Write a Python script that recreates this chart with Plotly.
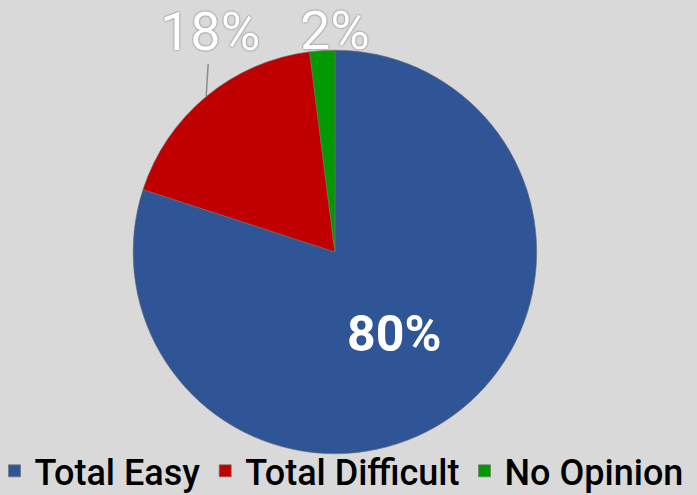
import math
import plotly.graph_objects as go

labels = ["Total Easy", "Total Difficult", "No Opinion"]
values = [80, 18, 2]
colors = ["#2F5597", "#C00000", "#009A00"]
positions = ["inside", "none", "none"]   # small slices get labels above the pie

W, H = 697, 495
dom_x = [0.191, 0.770]
dom_y = [0.083, 0.899]

# pie geometry in pixels (used to hang the outside labels on their slices)
cx = (dom_x[0] + dom_x[1]) / 2 * W
cy = (1 - (dom_y[0] + dom_y[1]) / 2) * H
R = (dom_y[1] - dom_y[0]) * H / 2
label_row = 31   # px from top

annotations = []
total = sum(values)
start = 0
for lab, v, pos in zip(labels, values, positions):
  mid = (start + v / 2) / total * 2 * math.pi
  start += v
  if pos != "none":
    continue
  ex = cx + R * math.sin(mid)
  ey = cy - R * math.cos(mid)
  long_leader = (ey - label_row) > 45
  annotations.append(dict(
    x=ex / W, y=1 - (ey if long_leader else label_row) / H,
    xref="paper", yref="paper",
    text=f"{round(100 * v / total)}%",
    showarrow=long_leader,
    ax=4, ay=label_row - ey,
    xshift=0 if long_leader else 13,
    arrowhead=0, arrowwidth=1.5, arrowcolor="#8c8c8c",
    xanchor="center", yanchor="middle",
    font=dict(family="Roboto", size=54, color="white",
              shadow="0px 0px 2px #555555"),
  ))

fig = go.Figure(
  data=[
    go.Pie(
      labels=labels,
      values=values,
      sort=False,
      direction="clockwise",
      rotation=0,
      texttemplate="%{percent:.0%}",
      textposition=positions,
      insidetextorientation="horizontal",
      insidetextfont=dict(family="Roboto", size=50, color="white", weight="bold"),
      marker=dict(colors=colors, line=dict(color="#6f6f6f", width=0.6)),
      domain=dict(x=dom_x, y=dom_y),
      hoverinfo="skip",
    )
  ],
  layout=go.Layout(
    width=W,
    height=H,
    paper_bgcolor="#D9D9D9",
    plot_bgcolor="#D9D9D9",
    margin=dict(l=0, r=0, t=0, b=0, autoexpand=False),
    showlegend=True,
    legend=dict(
      orientation="h",
      x=0.49, xanchor="center",
      y=-0.012, yanchor="bottom",
      font=dict(family="Roboto", size=36, color="black", weight=500),
      itemwidth=30,
      tracegroupgap=0,
      bgcolor="rgba(0,0,0,0)",
    ),
    annotations=annotations,
    font=dict(family="Roboto"),
  ),
)

fig.write_html("out.html", config={"displayModeBar": False},
               post_script="document.body.style.margin='0';document.body.style.overflow='hidden';")
